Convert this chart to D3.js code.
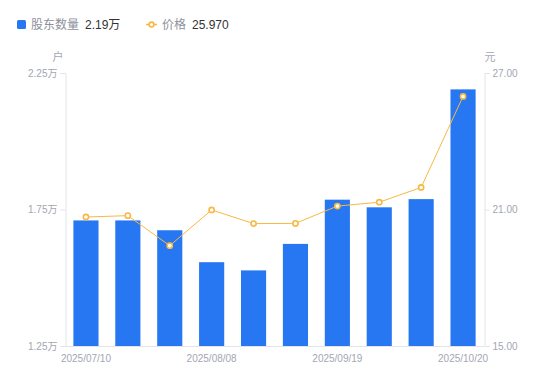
<!DOCTYPE html>
<html><head><meta charset="utf-8">
<script src="https://cdn.jsdelivr.net/npm/d3@7/dist/d3.min.js"></script>
<style>
body{margin:0;background:#fff;}
svg{display:block;font-family:"Liberation Sans","Noto Sans CJK SC",sans-serif;}
</style></head>
<body><svg id="c" width="550" height="381"></svg>
<script>
const dates = ["2025/07/10","2025/07/18","2025/07/31","2025/08/08","2025/08/20","2025/08/29","2025/09/19","2025/09/30","2025/10/10","2025/10/20"];
const holders = [1.71,1.71,1.674,1.557,1.527,1.624,1.786,1.758,1.788,2.19];
const prices = [20.67,20.73,19.41,20.98,20.38,20.39,21.15,21.32,21.97,25.97];
const leftTicks = [1.25,1.75,2.25];
const rightTicks = [15,21,27];
const shownDates = ["2025/07/10","2025/08/08","2025/09/19","2025/10/20"];

const svg = d3.select("#c");
const L=65, R=484, T=73, B=346;
const x = d3.scaleBand().domain(dates).range([L,R]).paddingInner(0.4).paddingOuter(0.2);
const yL = d3.scaleLinear().domain([1.25,2.25]).range([B,T]);
const yR = d3.scaleLinear().domain([15,27]).range([B,T]);
const axisCol="#e3e4e8", txtCol="#a3a6b2";
const fnt="'Liberation Sans','Noto Sans CJK SC',sans-serif";

// axes
const gl = svg.append("g").attr("transform",`translate(${L+0.5},0)`)
  .call(d3.axisLeft(yL).tickValues(leftTicks).tickSize(5).tickPadding(3).tickFormat(d=>d3.format(".2f")(d)+"万"));
const gr = svg.append("g").attr("transform",`translate(${R+0.5},0)`)
  .call(d3.axisRight(yR).tickValues(rightTicks).tickSize(5).tickPadding(3).tickFormat(d3.format(".2f")));
const gb = svg.append("g").attr("transform",`translate(0,${B+0.5})`)
  .call(d3.axisBottom(x).tickValues(shownDates).tickSize(0).tickPadding(8));
[gl,gr,gb].forEach(g=>{
  g.selectAll("path.domain").attr("stroke",axisCol);
  g.selectAll("line").attr("stroke",axisCol);
  g.selectAll("text").attr("fill",txtCol).style("font-family",fnt).style("font-size","10px");
});
gb.select("path.domain").attr("d",`M${L},0H${R}`);

svg.append("text").attr("x",58).attr("y",61).attr("text-anchor","middle").attr("fill",txtCol).style("font-size","11px").style("font-family","'Noto Sans CJK SC',sans-serif").text("户");
svg.append("text").attr("x",490).attr("y",61).attr("text-anchor","middle").attr("fill",txtCol).style("font-size","11px").style("font-family","'Noto Sans CJK SC',sans-serif").text("元");

// bars
svg.append("g").selectAll("rect").data(dates).join("rect")
  .attr("x",d=>x(d)).attr("width",x.bandwidth())
  .attr("y",(d,i)=>yL(holders[i])).attr("height",(d,i)=>B-yL(holders[i]))
  .attr("fill","#2777f2");

// line
const cx = d=>x(d)+x.bandwidth()/2;
svg.append("path").datum(dates)
  .attr("d",d3.line().x(cx).y((d,i)=>yR(prices[i])))
  .attr("fill","none").attr("stroke","#f8b843").attr("stroke-width",1);
svg.append("g").selectAll("circle").data(dates).join("circle")
  .attr("cx",cx).attr("cy",(d,i)=>yR(prices[i])).attr("r",2.6)
  .attr("fill","#fff").attr("stroke","#f8b843").attr("stroke-width",1.6);

// legend
const lg = svg.append("g").style("font-size","12px");
lg.append("rect").attr("x",17).attr("y",20).attr("width",9).attr("height",9).attr("rx",1.5).attr("fill","#2777f2");
lg.append("text").attr("x",31).attr("y",29).attr("fill","#8e919c").style("font-family","'Noto Sans CJK SC',sans-serif").text("股东数量");
lg.append("text").attr("x",85).attr("y",29).attr("fill","#333").style("font-family",fnt).text(d3.format(".2f")(holders[holders.length-1])+"万");
lg.append("line").attr("x1",146).attr("x2",157).attr("y1",24.5).attr("y2",24.5).attr("stroke","#f8b843").attr("stroke-width",1.5);
lg.append("circle").attr("cx",151.5).attr("cy",24.5).attr("r",2.4).attr("fill","#fff").attr("stroke","#f8b843").attr("stroke-width",1.6);
lg.append("text").attr("x",162).attr("y",29).attr("fill","#8e919c").style("font-family","'Noto Sans CJK SC',sans-serif").text("价格");
lg.append("text").attr("x",192).attr("y",29).attr("fill","#333").style("font-family",fnt).text(d3.format(".3f")(prices[prices.length-1]));
</script></body></html>
